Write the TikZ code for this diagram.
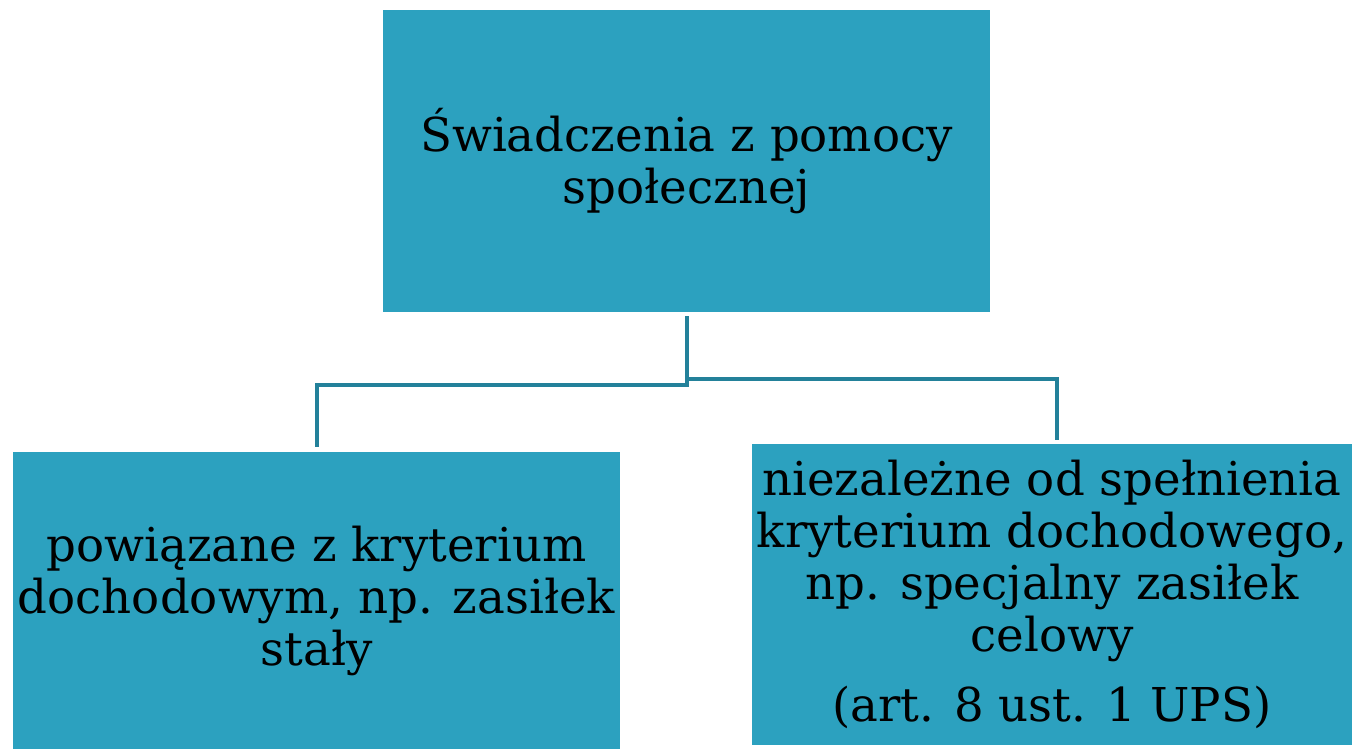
\documentclass[tikz,border=0pt]{standalone}
\usepackage{fontspec}
\setmainfont{DejaVu Serif}
\definecolor{boxfill}{HTML}{2CA1BF}
\definecolor{linec}{HTML}{23819A}
\begin{document}
\begin{tikzpicture}[x=0.75pt,y=-0.75pt,
  box/.style={fill=boxfill, draw=none, inner sep=0pt, align=center,
    font=\fontsize{35}{39}\selectfont, text=black},
  conn/.style={draw=linec, line width=3pt}]
\useasboundingbox (0,0) rectangle (1352,749);
\node[box, minimum width=455.25pt, minimum height=226.5pt] (top) at (686.5,161)
  {Świadczenia z pomocy\\społecznej};
\node[box, minimum width=455.25pt, minimum height=222.75pt] (left) at (316.5,600.5)
  {powiązane z kryterium\\dochodowym, np. zasiłek\\stały};
\node[box, minimum width=450pt, minimum height=225.75pt] (right) at (1052,594.5)
  {niezależne od spełnienia\\kryterium dochodowego,\\np. specjalny zasiłek\\celowy\\[14pt](art. 8 ust. 1 UPS)};
\coordinate (jl) at ([yshift=-54.75pt]top.south);
\coordinate (jr) at ([yshift=-50.25pt]top.south);
\draw[conn] ([yshift=-3pt]top.south) -- (jl) -| ([yshift=3.75pt]left.north);
\draw[conn] ([yshift=-3pt]top.south) -- (jr) -| ([xshift=3.75pt,yshift=3pt]right.north);
\end{tikzpicture}
\end{document}
